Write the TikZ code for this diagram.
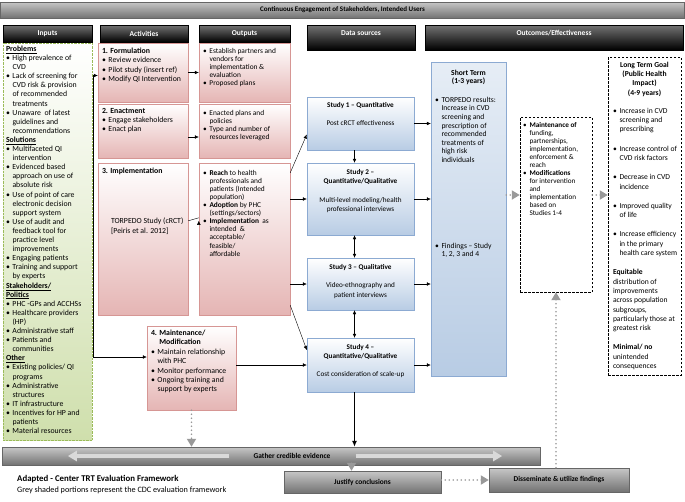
\documentclass[tikz,border=0pt]{standalone}
\usepackage{fontspec}
\setmainfont{Carlito}
\usepackage{tikz}
\usetikzlibrary{shapes,arrows.meta}
\usetikzlibrary{positioning}

\definecolor{pinkfill}{RGB}{229,181,180}
\definecolor{pinkline}{RGB}{214,150,148}
\definecolor{bluefill}{RGB}{184,204,228}
\definecolor{blueline}{RGB}{140,170,210}
\definecolor{greenfill}{RGB}{207,223,172}
\definecolor{greenline}{RGB}{155,187,89}

\newcommand{\fs}[2]{\fontsize{#1}{#2}\selectfont}
\newcommand{\itm}{\makebox[6.5pt][l]{\textbullet}}
\newcommand{\cnt}{\hspace*{6.5pt}}

\tikzstyle{header} = [rectangle, draw=black, top color=black!55, bottom color=black, text=white, font=\bfseries\fs{7.5}{9}, inner sep=0pt]
\tikzstyle{greybar} = [rectangle, draw=black!60, top color=black!22, bottom color=black!55, font=\bfseries\fs{7.4}{9}, inner sep=0pt]
\tikzstyle{inbox} = [rectangle, draw=greenline, densely dotted, top color=white, bottom color=greenfill, inner sep=0pt]
\tikzstyle{actbox} = [rectangle, draw=pinkline, top color=white, bottom color=pinkfill, inner sep=0pt]
\tikzstyle{databox} = [rectangle, draw=blueline, top color=white, bottom color=bluefill, inner sep=0pt]
\tikzstyle{stbox} = [rectangle, draw=blueline, top color=bluefill!35, bottom color=bluefill, inner sep=0pt]
\tikzstyle{dashbox} = [rectangle, draw=black, dash pattern=on 2.5pt off 1.5pt, fill=white, inner sep=0pt]
\tikzstyle{intxt} = [inner sep=0pt, align=left, font=\fs{7.8}{9.1}]
\tikzstyle{acttxt} = [inner sep=0pt, align=left, font=\fs{7.8}{9.4}]
\tikzstyle{outtxt} = [inner sep=0pt, align=left, font=\fs{7.4}{8.1}]
\tikzstyle{dtxt} = [inner sep=0pt, align=center, font=\fs{7.2}{9.5}]
\tikzstyle{sttxt} = [inner sep=0pt, align=left, font=\fs{7.6}{8.6}]
\tikzstyle{midtxt} = [inner sep=0pt, align=left, font=\fs{7.2}{8}]
\tikzstyle{lttxt} = [inner sep=0pt, align=left, font=\fs{7.6}{9.3}]
\tikzstyle{greyarrow} = [draw=black!40, line width=1.8pt, line cap=round, dash pattern=on 0pt off 4pt, -{Triangle[width=9pt,length=8pt]}]
\tikzstyle{blockarrow} = [draw=black!15, line width=3.5pt, -{Triangle[width=10pt,length=9pt]}]

\begin{document}
\begin{tikzpicture}[x=1pt, y=-1pt, >={Latex[length=4pt,width=3.6pt]}]
   \useasboundingbox (0,0) rectangle (685,501);
   % Banner and headers
   \node [greybar, minimum width=684pt, minimum height=16pt, font=\bfseries\fs{7}{8}] (banner) at (342.5,10) {Continuous Engagement of Stakeholders, Intended Users};
   \node [header, minimum width=89pt, minimum height=17pt] (hInp) at (47.5,33.5) {Inputs};
   \node [header, minimum width=88pt, minimum height=17pt] (hAct) at (144,33.5) {Activities};
   \node [header, minimum width=91pt, minimum height=17pt] (hOut) at (244.5,33.5) {Outputs};
   \node [header, minimum width=108pt, minimum height=25pt, text height=5.5pt, text depth=9.5pt] (hData) at (361,37.5) {Data sources};
   \node [header, minimum width=258pt, minimum height=25pt, text height=5.5pt, text depth=9.5pt] (hOutc) at (554,37.5) {Outcomes/Effectiveness};

   % Place boxes
   \node [inbox, minimum width=89pt, minimum height=397pt] (inp) at (47.5,241.5) {};
   \node [actbox, minimum width=90pt, minimum height=59pt] (act1) at (143,72.5) {};
   \node [actbox, minimum width=90pt, minimum height=54pt] (act2) at (143,131) {};
   \node [actbox, minimum width=90pt, minimum height=152pt] (act3) at (143,239) {};
   \node [actbox, minimum width=89pt, minimum height=84pt] (act4) at (191.5,368) {};
   \node [actbox, minimum width=91pt, minimum height=59pt] (out1) at (244.5,72.5) {};
   \node [actbox, minimum width=91pt, minimum height=54pt] (out2) at (244.5,131) {};
   \node [actbox, minimum width=91pt, minimum height=152pt] (out3) at (244.5,239) {};
   \node [databox, minimum width=107pt, minimum height=53pt] (s1) at (360.5,123.5) {};
   \node [databox, minimum width=107pt, minimum height=72pt] (s2) at (360.5,199) {};
   \node [databox, minimum width=107pt, minimum height=52pt] (s3) at (360.5,284) {};
   \node [databox, minimum width=107pt, minimum height=54pt] (s4) at (360.5,365) {};
   \node [stbox, minimum width=75pt, minimum height=314pt] (st) at (468.5,219) {};
   \node [dashbox, minimum width=72pt, minimum height=175pt] (mid) at (556,204.5) {};
   \node [dashbox, minimum width=73pt, minimum height=318pt] (lt) at (644.5,216) {};
   \node [greybar, minimum width=538pt, minimum height=18pt] (gather) at (271,456) {};
   \node [greybar, minimum width=157pt, minimum height=22pt] (justify) at (362.5,482) {Justify conclusions};
   \node [greybar, minimum width=140pt, minimum height=24pt] (dissem) at (559,480) {Disseminate \& utilize findings};

   % Texts
   \node [intxt, below right=3pt and 3pt of inp.north west] (tInp) {\underline{\textbf{Problems}}\\
      \itm High prevalence of\\ \cnt CVD\\
      \itm Lack of screening for\\ \cnt CVD risk \& provision\\ \cnt of recommended\\ \cnt treatments\\
      \itm Unaware\ \ of latest\\ \cnt guidelines and\\ \cnt recommendations\\
      \underline{\textbf{Solutions}}\\
      \itm Multifaceted QI\\ \cnt intervention\\
      \itm Evidenced based\\ \cnt approach on use of\\ \cnt absolute risk\\
      \itm Use of point of care\\ \cnt electronic decision\\ \cnt support system\\
      \itm Use of audit and\\ \cnt feedback tool for\\ \cnt practice level\\ \cnt improvements\\
      \itm Engaging patients\\
      \itm Training and support\\ \cnt by experts\\
      \underline{\textbf{Stakeholders/}}\\ \underline{\textbf{Politics}}\\
      \itm PHC -GPs and ACCHSs\\
      \itm Healthcare providers\\ \cnt (HP)\\
      \itm Administrative staff\\
      \itm Patients and\\ \cnt communities\\
      \underline{\textbf{Other}}\\
      \itm Existing policies/ QI\\ \cnt programs\\
      \itm Administrative\\ \cnt structures\\
      \itm IT infrastructure\\
      \itm Incentives for HP and\\ \cnt patients\\
      \itm Material resources};
   \node [acttxt, below right=5pt and 4pt of act1.north west] (tAct1) {\textbf{1. Formulation}\\ \itm Review evidence\\ \itm Pilot study (insert ref)\\ \itm Modify QI Intervention};
   \node [acttxt, below right=4pt and 4pt of act2.north west] (tAct2) {\textbf{2. Enactment}\\ \itm Engage stakeholders\\ \itm Enact plan};
   \node [acttxt, below right=5pt and 4pt of act3.north west] (tAct3) {\textbf{3. Implementation}};
   \node [acttxt, below right=55pt and 13pt of act3.north west] (tTor) {TORPEDO Study (cRCT)\\ {[Peiris et al. 2012]}};
   \node [acttxt, below right=4pt and 4pt of act4.north west] (tAct4) {\textbf{4. Maintenance/}\\ \phantom{\textbf{4. }}\textbf{Modification}\\ \itm Maintain relationship\\ \cnt with PHC\\ \itm Monitor performance\\ \itm Ongoing training and\\ \cnt support by experts};
   \node [outtxt, below right=5pt and 4pt of out1.north west] (tOut1) {\itm Establish partners and\\ \cnt vendors for\\ \cnt implementation \&\\ \cnt evaluation\\ \itm Proposed plans};
   \node [outtxt, below right=6pt and 4pt of out2.north west] (tOut2) {\itm Enacted plans and\\ \cnt policies\\ \itm Type and number of\\ \cnt resources leveraged};
   \node [outtxt, below right=7pt and 4pt of out3.north west] (tOut3) {\itm \textbf{Reach} to health\\ \cnt professionals and\\ \cnt patients (Intended\\ \cnt population)\\ \itm \textbf{Adoption} by PHC\\ \cnt (settings/sectors)\\ \itm \textbf{Implementation}\ \ as\\ \cnt intended\ \ \&\\ \cnt acceptable/\\ \cnt feasible/\\ \cnt affordable};
   \node [dtxt, below=5pt of s1.north] (tS1) {\textbf{Study 1 -- Quantitative}\\[9pt] Post cRCT effectiveness};
   \node [dtxt, below=6pt of s2.north] (tS2) {\textbf{Study 2 --}\\ \textbf{Quantitative/Qualitative}\\[9pt] Multi-level modeling/health\\ professional interviews};
   \node [dtxt, below=6pt of s3.north] (tS3) {\textbf{Study 3 -- Qualitative}\\[9pt] Video-ethnography and\\ patient interviews};
   \node [dtxt, below=6pt of s4.north] (tS4) {\textbf{Study 4 --}\\ \textbf{Quantitative/Qualitative}\\[8pt] Cost consideration of scale-up};
   \node [sttxt, align=center, below=8pt of st.north] (tST) {\textbf{Short Term}\\ \textbf{(1-3 years)}};
   \node [sttxt, below right=35pt and 4pt of st.north west] (tSTres) {\itm TORPEDO results:\\ \cnt Increase in CVD\\ \cnt screening and\\ \cnt prescription of\\ \cnt recommended\\ \cnt treatments of\\ \cnt high risk\\ \cnt individuals};
   \node [sttxt, below right=181pt and 4pt of st.north west] (tFind) {\itm Findings -- Study\\ \cnt 1, 2, 3 and 4};
   \node [midtxt, below right=5pt and 3pt of mid.north west] (tMid) {\itm \textbf{Maintenance of}\\ \cnt funding,\\ \cnt partnerships,\\ \cnt implementation,\\ \cnt enforcement \&\\ \cnt reach\\ \itm \textbf{Modifications}\\ \cnt for intervention\\ \cnt and\\ \cnt implementation\\ \cnt based on\\ \cnt Studies 1-4};
   \node [lttxt, align=center, below=5pt of lt.north] (tLT) {\textbf{Long Term Goal}\\ \textbf{(Public Health}\\ \textbf{Impact)}\\ \textbf{(4-9 years)}};
   \node [lttxt, below right=51pt and 5pt of lt.north west] (tLTlist) {\itm Increase in CVD\\ \cnt screening and\\ \cnt prescribing\\[10pt]
      \itm Increase control of\\ \cnt CVD risk factors\\[10pt]
      \itm Decrease in CVD\\ \cnt incidence\\[10pt]
      \itm Improved quality\\ \cnt of life\\[10pt]
      \itm Increase efficiency\\ \cnt in the primary\\ \cnt health care system\\[10pt]
      \textbf{Equitable}\\ distribution of\\ improvements\\ across population\\ subgroups,\\ particularly those at\\ greatest risk\\[10pt]
      \textbf{Minimal/ no}\\ unintended\\ consequences};
   \node [inner sep=0pt, font=\bfseries\fs{7.4}{9}] (tGather) at (292,456) {Gather credible evidence};
   \node [inner sep=0pt, anchor=west, font=\bfseries\fs{8.8}{10}] (tAdapt) at (17,479) {Adapted - Center TRT Evaluation Framework};
   \node [inner sep=0pt, below=4pt of tAdapt.south west, anchor=north west, font=\fs{8.2}{10}] (tGrey) {Grey shaded portions represent the CDC evaluation framework};

   % Connectors
   \draw[<->] ([yshift=-3pt]act1.west) -- ++(-5,0) |- ([yshift=11pt]act4.west);
   \draw[->] (act1) -- (out1);
   \draw[->] ([yshift=-6pt]act2.east) -- ([yshift=-6pt]out2.west);
   \draw[->] (act3.east |- tTor.north) ++(0,3) -- (out3.west |- tTor.north) ++(0,3);
   \draw[->] ([yshift=-10pt]out3.north east) -- ([yshift=-11pt]s1.west);
   \draw[->] (out3.east |- s2) -- (s2);
   \draw[->] (out3.east |- s3) -- (s3);
   \draw[->] ([yshift=10pt]out3.south east) -- ([yshift=15pt]s4.west);
   \draw[->] (act4.east |- s4) -- (s4);
   \draw[->] ([xshift=-6pt]s1.south) -- ([xshift=-6pt]s2.north);
   \draw[<->] ([xshift=-6pt]s2.south) -- ([xshift=-6pt]s3.north);
   \draw[<->] ([xshift=-6pt]s3.south) -- ([xshift=-6pt]s4.north);
   \draw[-{Latex[length=6pt,width=5pt]}, line width=1.4pt] ([xshift=-6pt]s4.south) -- ([xshift=-6pt]s4.south |- gather.north);
   \draw[->] (s1) -- (s1 -| st.west);
   \draw[->] (s2) -- (s2 -| st.west);
   \draw[->] (s3) -- (s3 -| st.west);
   \draw[->] (s4) -- (s4 -| st.west);
   \coordinate (outrow) at (0,195);
   \draw[greyarrow] (st.east |- outrow) -- (mid.west |- outrow);
   \draw[greyarrow] (mid.east |- outrow) -- (lt.west |- outrow);
   \draw[greyarrow] (mid.south |- dissem.north) -- (mid.south);
   \draw[greyarrow] (act4.south) -- (act4.south |- gather.north);
   \draw[greyarrow] ([xshift=-11pt,yshift=2pt]justify.north |- gather.south) -- ([xshift=-11pt]justify.north);
   \draw[greyarrow] (justify.east |- dissem) -- (dissem.west);
   \draw[blockarrow] ([xshift=-24pt]tGather.west) -- ([xshift=66pt]gather.west);
   \draw[blockarrow] ([xshift=25pt]tGather.east) -- ([xshift=-38pt]gather.east);
\end{tikzpicture}
\end{document}
